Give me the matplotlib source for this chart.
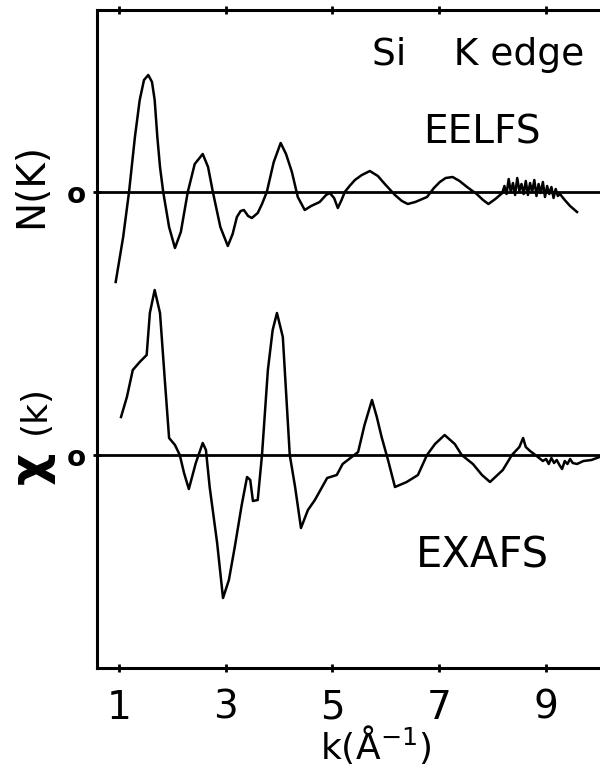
import numpy as np
import matplotlib.pyplot as plt

# EELFS N(K), upper trace (arbitrary units, 0 = its own baseline)
k_eelfs = [0.94, 1.08, 1.19, 1.30, 1.39, 1.47, 1.55, 1.62, 1.67, 1.72, 1.77, 1.83,
           1.94, 2.05, 2.16, 2.29, 2.42, 2.57, 2.67, 2.76, 2.90, 3.04, 3.13, 3.21,
           3.28, 3.34, 3.42, 3.49, 3.60, 3.68, 3.77, 3.90, 4.03, 4.13, 4.24, 4.35,
           4.48, 4.60, 4.76, 4.88, 4.95, 5.03, 5.10, 5.17, 5.23, 5.32, 5.42, 5.55,
           5.70, 5.85, 5.98, 6.17, 6.30, 6.41, 6.55, 6.77, 6.90, 7.01, 7.12, 7.25,
           7.38, 7.52, 7.70, 7.82, 7.92, 8.05, 8.18,
           8.22, 8.26, 8.30, 8.34, 8.38, 8.42, 8.46, 8.50, 8.54, 8.58, 8.62, 8.66,
           8.70, 8.74, 8.78, 8.82, 8.86, 8.90, 8.94, 8.98, 9.02, 9.06, 9.10, 9.14,
           9.18, 9.22, 9.26, 9.35, 9.45, 9.58]
n_eelfs = [-0.90, -0.45, 0.00, 0.55, 0.92, 1.12, 1.17, 1.10, 0.92, 0.55, 0.25, 0.00,
           -0.35, -0.56, -0.40, 0.00, 0.28, 0.38, 0.25, 0.00, -0.35, -0.54, -0.42, -0.25,
           -0.19, -0.18, -0.24, -0.26, -0.21, -0.12, 0.00, 0.30, 0.49, 0.38, 0.20, -0.05,
           -0.18, -0.14, -0.10, -0.03, -0.01, -0.06, -0.16, -0.08, 0.00, 0.06, 0.12, 0.17,
           0.21, 0.16, 0.08, -0.03, -0.09, -0.12, -0.10, -0.05, 0.04, 0.10, 0.14, 0.15,
           0.11, 0.05, -0.02, -0.08, -0.12, -0.07, -0.01,
           0.06, -0.02, 0.13, 0.00, 0.09, -0.03, 0.14, 0.01, 0.08, -0.02, 0.11, -0.03,
           0.09, 0.00, 0.12, -0.04, 0.08, -0.01, 0.10, -0.05, 0.06, -0.02, 0.05, -0.06,
           0.03, -0.04, -0.02, -0.08, -0.14, -0.20]

# EXAFS chi(k), lower trace
k_exafs = [1.04, 1.15, 1.26, 1.39, 1.52, 1.58, 1.67, 1.77, 1.86, 1.94, 2.05, 2.14,
           2.22, 2.31, 2.44, 2.57, 2.63, 2.70, 2.84, 2.95, 3.06, 3.17, 3.30, 3.40,
           3.46, 3.51, 3.60, 3.68, 3.79, 3.88, 3.96, 4.07, 4.20, 4.30, 4.41, 4.54,
           4.67, 4.90, 5.08, 5.19, 5.36, 5.48, 5.60, 5.74, 5.83, 5.92, 6.04, 6.17,
           6.39, 6.60, 6.77, 6.92, 7.10, 7.29, 7.42, 7.63, 7.80, 7.95, 8.19, 8.36,
           8.50, 8.57, 8.62, 8.70, 8.80, 8.94, 9.00, 9.05, 9.10, 9.15, 9.20, 9.25,
           9.30, 9.35, 9.40, 9.45, 9.50, 9.58, 9.70, 9.85, 10.0]
chi_exafs = [0.38, 0.58, 0.85, 0.93, 1.00, 1.42, 1.65, 1.42, 0.75, 0.17, 0.10, 0.00,
             -0.18, -0.34, -0.08, 0.12, 0.05, -0.32, -0.88, -1.43, -1.25, -0.92, -0.50, -0.22,
             -0.25, -0.46, -0.45, 0.00, 0.85, 1.25, 1.42, 1.18, 0.00, -0.32, -0.73, -0.55,
             -0.45, -0.23, -0.20, -0.09, -0.02, 0.03, 0.30, 0.55, 0.38, 0.18, -0.05, -0.32,
             -0.27, -0.20, 0.00, 0.11, 0.20, 0.11, 0.00, -0.09, -0.20, -0.27, -0.15, 0.00,
             0.08, 0.17, 0.08, 0.04, 0.00, -0.06, -0.04, -0.09, -0.03, -0.08, -0.05, -0.10,
             -0.14, -0.06, -0.09, -0.04, -0.08, -0.09, -0.06, -0.05, -0.02]

k_ticks = [1, 3, 5, 7, 9]

# vertical offsets of the two traces in the stacked plot
eelfs_base = 4.76
exafs_base = 2.13

fig = plt.figure(figsize=(6, 7.71), dpi=100)
ax = fig.add_axes([97 / 600, 103 / 771, 503 / 600, 658 / 771])

ax.axhline(eelfs_base, color="black", lw=2.0)
ax.axhline(exafs_base, color="black", lw=2.0)
ax.plot(k_eelfs, np.array(n_eelfs) + eelfs_base, color="black", lw=1.8)
ax.plot(k_exafs, np.array(chi_exafs) + exafs_base, color="black", lw=1.8)

ax.set_xlim(0.59, 10.01)
ax.set_ylim(0, 6.58)
ax.spines["right"].set_visible(False)
for s in ["left", "top", "bottom"]:
    ax.spines[s].set_linewidth(2.2)

ax.set_xticks(k_ticks)
ax.set_xticklabels([str(t) for t in k_ticks], fontsize=28)
ax.tick_params(axis="x", direction="inout", length=6, width=2, pad=12, top=True)
ax.set_yticks([exafs_base, eelfs_base])
ax.set_yticklabels(["o", "o"], fontsize=20, fontweight="bold")
ax.tick_params(axis="y", direction="inout", length=6, width=2, pad=5)

# axis labels
fig.text(320 / 600, 1 - 745 / 771, "k(Å$^{-1}$)", fontsize=26, ha="left", va="center")
fig.text(31 / 600, 1 - 185 / 771, "N(K)", fontsize=28, rotation=90, ha="center", va="center")
fig.text(31 / 600, 1 - 468 / 771, "χ", fontsize=36, fontweight="bold", rotation=90,
         ha="center", va="center")
fig.text(35 / 600, 1 - 410 / 771, "(k)", fontsize=26, rotation=90, ha="center", va="center")

# annotations
fig.text(372 / 600, 1 - 55 / 771, "Si    K edge", fontsize=27, ha="left", va="center")
fig.text(482 / 600, 1 - 133 / 771, "EELFS", fontsize=28, ha="center", va="center")
fig.text(482 / 600, 1 - 555 / 771, "EXAFS", fontsize=30, ha="center", va="center")

fig.savefig("out.png", dpi=100)
